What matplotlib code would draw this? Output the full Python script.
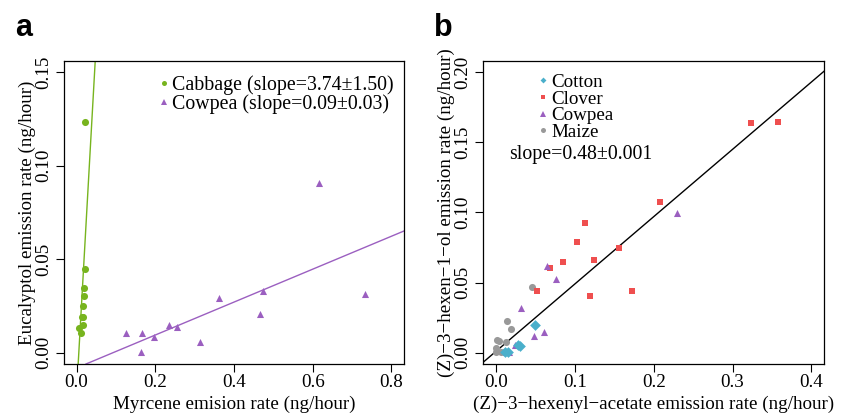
import matplotlib
matplotlib.use("Agg")
import matplotlib.pyplot as plt
from matplotlib.lines import Line2D

# ---------------- data ----------------
# panel a
cabbage_x = [0.021, 0.021, 0.0186, 0.0178, 0.0153, 0.0127, 0.0169, 0.0169, 0.0066, 0.0102]
cabbage_y = [0.1232, 0.0449, 0.0347, 0.0304, 0.0251, 0.0191, 0.0191, 0.0151, 0.0132, 0.0105]
cowpea_a_x = [0.1263, 0.166, 0.1636, 0.1967, 0.2357, 0.2552, 0.313, 0.362, 0.4656, 0.4733, 0.6148, 0.7319]
cowpea_a_y = [0.0105, 0.0105, 0.0004, 0.0084, 0.0146, 0.0137, 0.0057, 0.0294, 0.021, 0.0328, 0.0906, 0.0315]
cabbage_slope, cabbage_intercept = 3.74, -0.021
cowpea_a_slope, cowpea_a_intercept = 0.088, -0.0081
labels_a = ["Cabbage (slope=3.74\u00b11.50)", "Cowpea (slope=0.09\u00b10.03)"]

# panel b
cotton_x = [0.050, 0.0305, 0.028, 0.0156, 0.012]
cotton_y = [0.0201, 0.0048, 0.0055, 0.0005, 0.0005]
clover_x = [0.3234, 0.3577, 0.2078, 0.1126, 0.1024, 0.1558, 0.0847, 0.124, 0.0681, 0.0516, 0.1189, 0.1723]
clover_y = [0.1636, 0.1643, 0.1072, 0.0922, 0.0787, 0.0744, 0.0645, 0.0659, 0.0602, 0.0439, 0.0405, 0.0439]
cowpea_b_x = [0.229, 0.0648, 0.0762, 0.0317, 0.0614, 0.048, 0.024, 0.0165, 0.013]
cowpea_b_y = [0.0996, 0.0619, 0.0524, 0.032, 0.0147, 0.0123, 0.0059, 0.0005, 0.0005]
maize_x = [0.0457, 0.0135, 0.0194, 0.001, 0.004, 0.0127, 0.0, 0.0, 0.007, 0.0114]
maize_y = [0.0472, 0.0225, 0.017, 0.0092, 0.0083, 0.0076, 0.0036, 0.0005, 0.0005, 0.0005]
all_slope, all_intercept = 0.48, 0.001
labels_b = ["Cotton", "Clover", "Cowpea", "Maize"]
slope_text_b = "slope=0.48\u00b10.001"

xticks_a = [0.0, 0.2, 0.4, 0.6, 0.8]
yticks_a = [0.00, 0.05, 0.10, 0.15]
xticks_b = [0.0, 0.1, 0.2, 0.3, 0.4]
yticks_b = [0.00, 0.05, 0.10, 0.15, 0.20]

# ---------------- style ----------------
green = "#77B41E"
purple = "#9B5FC0"
red = "#EF4F4F"
cyan = "#4AAFCB"
gray = "#999999"
serif = ["Liberation Serif", "DejaVu Serif"]
plt.rcParams["font.family"] = serif
plt.rcParams["axes.unicode_minus"] = False
FS = 13.7
FS_LEG = 14.3
FS_LEG_B = 13.7

W, H = 842, 415
fig = plt.figure(figsize=(W / 100, H / 100), dpi=100)

def axes_px(l, r, t, b):
    return fig.add_axes([l / W, 1 - b / H, (r - l) / W, (b - t) / H])

ax_a = axes_px(64, 404, 61, 364)
ax_b = axes_px(483.3, 824, 61, 364)

def style(ax, xt, yt, xfmt, yfmt, xlim, ylim):
    ax.set_xlim(*xlim)
    ax.set_ylim(*ylim)
    ax.set_xticks(xt)
    ax.set_xticklabels([xfmt % v for v in xt])
    ax.set_yticks(yt)
    ax.set_yticklabels([yfmt % v for v in yt], rotation=90, va="center")
    ax.tick_params(direction="out", length=5.5, width=0.8, labelsize=FS, color="black")
    ax.tick_params(axis="x", pad=1.5)
    ax.tick_params(axis="y", pad=3)
    for s in ax.spines.values():
        s.set_linewidth(0.9)

def pad_lim(lo, hi):
    d = (hi - lo) * 0.04
    return (lo - d, hi + d)

# ---------------- panel a ----------------
style(ax_a, xticks_a, yticks_a, "%.1f", "%.2f", pad_lim(0, 0.8), pad_lim(0, 0.15))
ax_a.axline((0, cabbage_intercept), slope=cabbage_slope, color=green, lw=1.0, zorder=1)
ax_a.axline((0, cowpea_a_intercept), slope=cowpea_a_slope, color=purple, lw=1.0, zorder=1)
ax_a.scatter(cabbage_x, cabbage_y, s=26, marker="o", color=green, linewidths=0, zorder=3)
ax_a.scatter(cowpea_a_x, cowpea_a_y, s=26, marker="^", color=purple, linewidths=0, zorder=3)
handles_a = [
    Line2D([], [], linestyle="none", marker="o", markersize=3.6, color=green, markeredgewidth=0),
    Line2D([], [], linestyle="none", marker="^", markersize=3.8, color=purple, markeredgewidth=0),
]
ax_a.legend(handles_a, labels_a, loc="upper right", bbox_to_anchor=(1.0, 0.985), frameon=False,
            fontsize=FS_LEG, handlelength=0.6, handletextpad=0.15, labelspacing=-0.03,
            borderaxespad=0.3, borderpad=0.2)
ax_a.set_xlabel("Myrcene emision rate (ng/hour)", fontsize=FS)
ax_a.set_ylabel("Eucalyptol emission rate (ng/hour)", fontsize=FS)
ax_a.xaxis.set_label_coords(0.5, -0.104)
ax_a.yaxis.set_label_coords(-0.082, 0.5)

# ---------------- panel b ----------------
style(ax_b, xticks_b, yticks_b, "%.1f", "%.2f", pad_lim(0, 0.4), pad_lim(0, 0.2))
ax_b.axline((0, all_intercept), slope=all_slope, color="black", lw=1.0, zorder=1)
ax_b.scatter(maize_x, maize_y, s=26, marker="o", color=gray, linewidths=0, zorder=3)
ax_b.scatter(clover_x, clover_y, s=24, marker="s", color=red, linewidths=0, zorder=3)
ax_b.scatter(cowpea_b_x, cowpea_b_y, s=26, marker="^", color=purple, linewidths=0, zorder=3)
ax_b.scatter(cotton_x, cotton_y, s=30, marker="D", color=cyan, linewidths=0, zorder=3)
handles_b = [
    Line2D([], [], linestyle="none", marker="D", markersize=3.0, color=cyan, markeredgewidth=0),
    Line2D([], [], linestyle="none", marker="s", markersize=3.4, color=red, markeredgewidth=0),
    Line2D([], [], linestyle="none", marker="^", markersize=3.8, color=purple, markeredgewidth=0),
    Line2D([], [], linestyle="none", marker="o", markersize=3.6, color=gray, markeredgewidth=0),
]
ax_b.legend(handles_b, labels_b, loc="upper left", bbox_to_anchor=(0.13, 0.99), frameon=False,
            fontsize=FS_LEG_B, handlelength=0.6, handletextpad=0.15, labelspacing=-0.03,
            borderaxespad=0.3, borderpad=0.2)
ax_b.text(0.076, 0.69, slope_text_b, transform=ax_b.transAxes, fontsize=FS_LEG, ha="left", va="center")
ax_b.set_xlabel("(Z)\u22123\u2212hexenyl\u2212acetate emission rate (ng/hour)", fontsize=FS)
ax_b.set_ylabel("(Z)\u22123\u2212hexen\u22121\u2212ol emission rate (ng/hour)", fontsize=FS)
ax_b.xaxis.set_label_coords(0.5, -0.104)
ax_b.yaxis.set_label_coords(-0.082, 0.5)

# panel letters
fig.text(15 / W, 1 - 36 / H, "a", fontsize=22, fontweight="bold",
         family=["Liberation Sans", "DejaVu Sans"], ha="left", va="baseline")
fig.text(434 / W, 1 - 36 / H, "b", fontsize=22, fontweight="bold",
         family=["Liberation Sans", "DejaVu Sans"], ha="left", va="baseline")

fig.savefig("out.png", dpi=100)
